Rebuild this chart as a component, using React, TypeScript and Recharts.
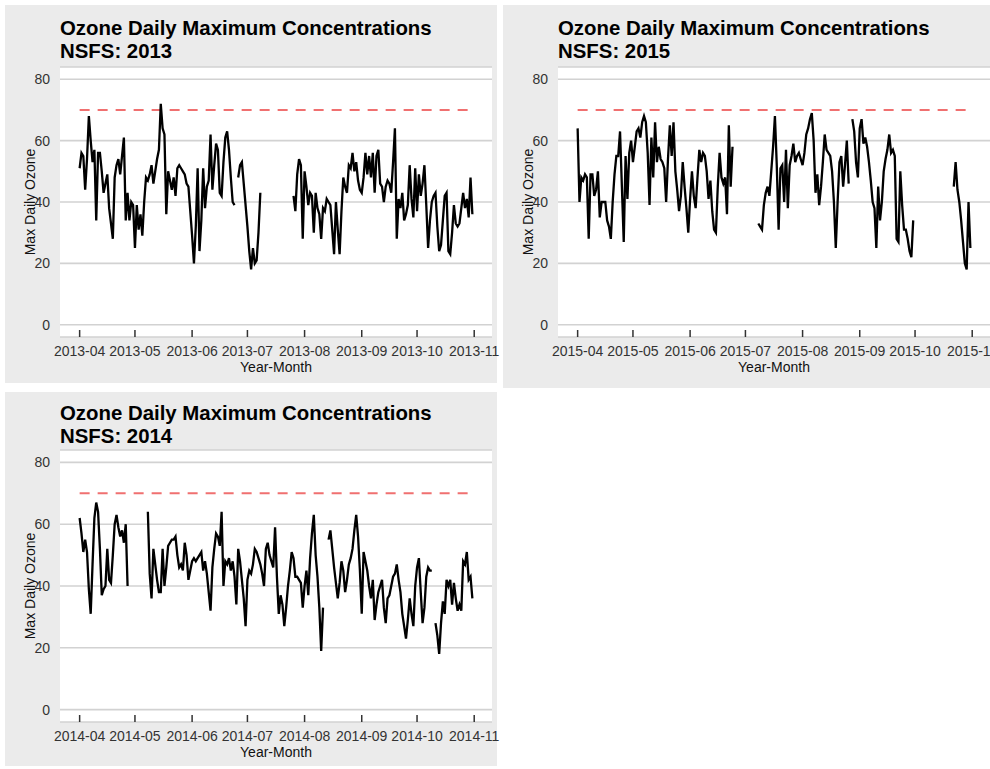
import { LineChart, Line, XAxis, YAxis, CartesianGrid, ReferenceLine } from "recharts";

// day index 0 = April 1, month starts used as axis ticks
const monthTicks = [0, 30, 61, 91, 122, 153, 183, 214];
const yTicks = [0, 20, 40, 60, 80];
const OZONE_STANDARD = 70;

const labels2013 = ["2013-04", "2013-05", "2013-06", "2013-07", "2013-08", "2013-09", "2013-10", "2013-11"];
const labels2014 = ["2014-04", "2014-05", "2014-06", "2014-07", "2014-08", "2014-09", "2014-10", "2014-11"];
const labels2015 = ["2015-04", "2015-05", "2015-06", "2015-07", "2015-08", "2015-09", "2015-10", "2015-11"];

const _ = null;

// daily max ozone (ppb), Apr 1 .. Oct 31
const ozone2013 = [
  51, 56, 55, 44, 54, 68, 60, 53, 57, 34, 56, 56, 50, 43, 46, 49, 38, 33, 28, 48,
  52, 54, 49, 55, 61, 34, 43, 34, 40, 39, 25, 39, 31, 36, 29, 40, 48, 47, 49, 52,
  46, 50, 54, 57, 72, 64, 62, 36, 50, 47, 44, 48, 42, 51, 52, 51, 50, 49, 46, 45,
  37, 29, 20, 32, 51, 24, 34, 51, 38, 45, 47, 62, 44, 52, 59, 57, 43, 42, 53, 61,
  63, 57, 48, 40, 39, _, 48, 52, 53, 46, 39, 32, 24, 18, 25, 20, 21, 30, 43, _,
  _, _, _, _, _, _, _, _, _, _, _, _, _, _, _, _, 42, 37, 49, 54,
  52, 28, 50, 45, 39, 43, 42, 30, 43, 38, 36, 28, 38, 37, 41, 40, 39, 31, 23, 40,
  31, 23, 37, 48, 45, 43, 52, 51, 56, 50, 53, 47, 44, 43, 48, 56, 49, 55, 48, 56,
  43, 55, 57, 46, 45, 40, 45, 47, 46, 43, 53, 64, 28, 41, 38, 43, 34, 36, 39, 52,
  41, 35, 51, 37, 49, 42, 46, 52, 39, 25, 34, 40, 42, 43, 32, 24, 26, 34, 42, 43,
  24, 23, 30, 39, 33, 32, 33, 38, 43, 38, 41, 35, 48, 36,
];

const ozone2015 = [
  64, 40, 48, 47, 49, 48, 28, 49, 49, 42, 44, 50, 35, 40, 40, 40, 34, 32, 28, 40,
  49, 55, 55, 63, 45, 27, 55, 41, 56, 60, 53, 58, 63, 64, 61, 66, 68, 66, 56, 39,
  61, 48, 66, 53, 58, 54, 53, 51, 40, 54, 65, 55, 66, 50, 44, 37, 42, 53, 45, 38,
  30, 41, 50, 42, 38, 48, 57, 53, 56, 55, 50, 41, 47, 37, 31, 30, 45, 56, 48, 46,
  48, 36, 65, 45, 58, _, _, _, _, _, _, _, _, _, _, _, _, _, 33, 32,
  31, 39, 43, 45, 42, 50, 58, 68, 52, 31, 51, 52, 40, 57, 38, 52, 55, 59, 53, 55,
  56, 54, 52, 56, 62, 64, 67, 69, 60, 43, 49, 39, 45, 53, 62, 57, 56, 55, 50, 40,
  25, 40, 53, 55, 45, 52, 60, 46, _, 67, 63, 53, 48, 64, 67, 59, 61, 58, 53, 47,
  40, 38, 25, 45, 34, 40, 50, 54, 57, 62, 56, 57, 55, 28, 27, 50, 39, 31, 31, 28,
  24, 22, 34, _, _, _, _, _, _, _, _, _, _, _, _, _, _, _, _, _,
  _, _, _, _, 45, 53, 44, 40, 34, 27, 20, 18, 40, 25,
];

const ozone2014 = [
  62, 57, 51, 55, 51, 39, 31, 47, 62, 67, 64, 52, 37, 39, 40, 52, 42, 41, 50, 60,
  63, 59, 56, 58, 54, 60, 40, _, _, _, _, _, _, _, _, _, _, 64, 44, 36,
  52, 47, 42, 38, 38, 52, 40, 46, 53, 54, 55, 55, 56, 50, 46, 47, 45, 54, 50, 42,
  45, 48, 49, 48, 49, 50, 51, 45, 48, 44, 38, 32, 46, 52, 57, 56, 53, 64, 40, 48,
  47, 49, 45, 48, 43, 34, 52, 48, 42, 36, 27, 42, 45, 44, 47, 52, 51, 49, 47, 44,
  40, 52, 54, 50, 48, 46, 59, 43, 31, 37, 34, 27, 33, 40, 45, 51, 49, 43, 43, 42,
  41, 33, 40, 45, 37, 49, 57, 63, 50, 43, 33, 19, 33, _, _, 55, 58, 52, 46, 41,
  36, 41, 48, 45, 38, 42, 47, 49, 52, 58, 63, 56, 45, 31, 51, 48, 45, 40, 36, 42,
  29, 34, 38, 40, 42, 33, 28, 36, 37, 40, 43, 44, 47, 42, 38, 31, 27, 23, 29, 36,
  31, 27, 40, 46, 49, 38, 28, 33, 43, 46, 45, 45, _, 28, 24, 18, 28, 35, 31, 42,
  40, 42, 34, 41, 36, 32, 34, 32, 48, 47, 51, 42, 43, 36,
];

const FONT = "'Liberation Sans', Arial, Helvetica, sans-serif";
const TICK_STYLE = { fontSize: 14, fill: "#333", fontFamily: FONT };

type PanelProps = {
  year: number;
  values: (number | null)[];
  labels: string[];
  left: number;
  top: number;
  height: number;
  plotTop: number;
  bottom: number;
  titleTop: number;
};

function OzonePanel({ year, values, labels, left, top, height, plotTop, bottom, titleTop }: PanelProps) {
  const data = values.map((v, i) => ({ day: i, ozone: v }));
  const lastDay = values.length - 1;
  return (
    <div style={{ position: "absolute", left, top, width: 492, height, background: "#ebebeb" }}>
      <div
        style={{
          position: "absolute",
          left: 55,
          top: titleTop,
          fontFamily: FONT,
          fontWeight: "bold",
          fontSize: 20.4,
          lineHeight: "23px",
          color: "#000",
          whiteSpace: "nowrap",
        }}
      >
        <div>Ozone Daily Maximum Concentrations</div>
        <div>NSFS: {year}</div>
      </div>
      <div style={{ position: "absolute", left: 0, top: 0 }}>
        <LineChart width={492} height={height} data={data} margin={{ top: plotTop, right: 5, bottom, left: 0 }}>
          <CartesianGrid vertical={false} fill="#fff" stroke="#d2d2d2" strokeWidth={1.6} />
          <XAxis
            dataKey="day"
            type="number"
            domain={[-10.65, 223.65]}
            ticks={monthTicks}
            allowDataOverflow
            tickFormatter={(d) => labels[monthTicks.indexOf(d)]}
            axisLine={false}
            tickSize={-7}
            tickMargin={16}
            tickLine={{ stroke: "#333", strokeWidth: 1.5 }}
            tick={TICK_STYLE}
            height={40}
            interval={0}
            label={{ value: "Year-Month", position: "insideBottom", offset: 5, style: { fontSize: 14, fill: "#111", fontFamily: FONT } }}
          />
          <YAxis
            type="number"
            domain={[-4, 84]}
            ticks={yTicks}
            allowDataOverflow
            width={55}
            axisLine={false}
            tickLine={false}
            tickSize={0}
            tickMargin={10}
            tick={TICK_STYLE}
            label={{
              value: "Max Daily Ozone",
              angle: -90,
              position: "insideLeft",
              offset: 25,
              style: { fontSize: 14, fill: "#111", fontFamily: FONT, textAnchor: "middle" },
            }}
          />
          <ReferenceLine
            segment={[
              { x: 0, y: OZONE_STANDARD },
              { x: lastDay, y: OZONE_STANDARD },
            ]}
            stroke="#f07070"
            strokeWidth={2}
            strokeDasharray="10 8"
          />
          <Line
            type="linear"
            dataKey="ozone"
            stroke="#000"
            strokeWidth={2.3}
            dot={false}
            activeDot={false}
            connectNulls={false}
            isAnimationActive={false}
          />
        </LineChart>
      </div>
    </div>
  );
}

export default function App() {
  return (
    <div style={{ position: "absolute", left: 0, top: 0, width: 990, height: 769, overflow: "hidden", background: "#fff" }}>
      <style>{".recharts-surface { overflow: visible; }"}</style>
      <OzonePanel year={2013} values={ozone2013} labels={labels2013} left={5} top={5} height={378} plotTop={62} bottom={6} titleTop={12} />
      <OzonePanel year={2015} values={ozone2015} labels={labels2015} left={503} top={5} height={383} plotTop={62} bottom={11} titleTop={12} />
      <OzonePanel year={2014} values={ozone2014} labels={labels2014} left={5} top={392} height={374} plotTop={58} bottom={4} titleTop={10} />
    </div>
  );
}
